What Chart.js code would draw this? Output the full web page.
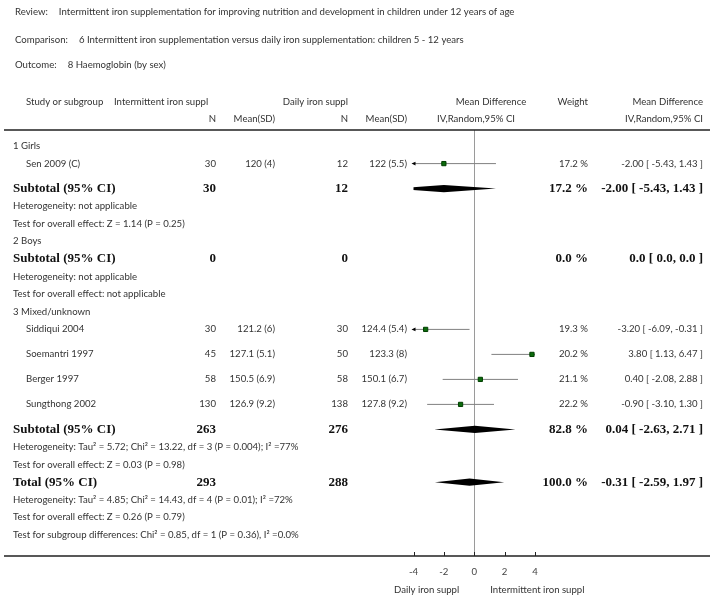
<!DOCTYPE html>
<html>
<head>
<meta charset="utf-8">
<script src="https://cdn.jsdelivr.net/npm/chart.js@4.4.1/dist/chart.umd.min.js"></script>
<style>
  html, body { margin: 0; padding: 0; background: #fff; }
  #wrap { width: 713px; height: 599px; }
</style>
</head>
<body>
<div id="wrap"><canvas id="forest" width="713" height="599"></canvas></div>
<script>
// study level data
const groupNames = ["1 Girls", "2 Boys", "3 Mixed/unknown"];
const studyNames = ["Sen 2009 (C)", "Siddiqui 2004", "Soemantri 1997", "Berger 1997", "Sungthong 2002"];
const studyGroup = [0, 2, 2, 2, 2];
const intN = [30, 30, 45, 58, 130];
const intMeanSD = ["120 (4)", "121.2 (6)", "127.1 (5.1)", "150.5 (6.9)", "126.9 (9.2)"];
const dailyN = [12, 30, 50, 58, 138];
const dailyMeanSD = ["122 (5.5)", "124.4 (5.4)", "123.3 (8)", "150.1 (6.7)", "127.8 (9.2)"];
const meanDiff = [-2.00, -3.20, 3.80, 0.40, -0.90];
const ciLow = [-5.43, -6.09, 1.13, -2.08, -3.10];
const ciHigh = [1.43, -0.31, 6.47, 2.88, 1.30];
const weight = [17.2, 19.3, 20.2, 21.1, 22.2];

// subtotals (girls, boys, mixed) and total
const totalNames = ["Subtotal (95% CI)", "Subtotal (95% CI)", "Subtotal (95% CI)", "Total (95% CI)"];
const totalIntN = [30, 0, 263, 293];
const totalDailyN = [12, 0, 276, 288];
const totalWeight = ["17.2 %", "0.0 %", "82.8 %", "100.0 %"];
const totalCI = ["-2.00 [ -5.43, 1.43 ]", "0.0 [ 0.0, 0.0 ]", "0.04 [ -2.63, 2.71 ]", "-0.31 [ -2.59, 1.97 ]"];
const totalMD = [-2.00, null, 0.04, -0.31];
const totalLow = [-5.43, null, -2.63, -2.59];
const totalHigh = [1.43, null, 2.71, 1.97];

const hetText = [
  "Heterogeneity: not applicable",
  "Heterogeneity: not applicable",
  "Heterogeneity: Tau² = 5.72; Chi² = 13.22, df = 3 (P = 0.004); I² =77%",
  "Heterogeneity: Tau² = 4.85; Chi² = 14.43, df = 4 (P = 0.01); I² =72%"
];
const effectText = [
  "Test for overall effect: Z = 1.14 (P = 0.25)",
  "Test for overall effect: not applicable",
  "Test for overall effect: Z = 0.03 (P = 0.98)",
  "Test for overall effect: Z = 0.26 (P = 0.79)"
];
const subgroupText = "Test for subgroup differences: Chi² = 0.85, df = 1 (P = 0.36), I² =0.0%";

const titleKeys = ["Review:", "Comparison:", "Outcome:"];
const titleValues = [
  "Intermittent iron supplementation for improving nutrition and development in children under 12 years of age",
  "6 Intermittent iron supplementation versus daily iron supplementation: children 5 - 12 years",
  "8 Haemoglobin (by sex)"
];

const xTicks = [-4, -2, 0, 2, 4];
const leftLabel = "Daily iron suppl";
const rightLabel = "Intermittent iron suppl";

// build the row list of the table
const rows = [];
groupNames.forEach((g, gi) => {
  rows.push({ kind: "label", text: g });
  studyGroup.forEach((sg, i) => { if (sg === gi) rows.push({ kind: "study", i: i }); });
  rows.push({ kind: "total", i: gi });
  rows.push({ kind: "label", text: hetText[gi] });
  rows.push({ kind: "label", text: effectText[gi] });
});
rows.push({ kind: "total", i: 3 });
rows.push({ kind: "label", text: hetText[3] });
rows.push({ kind: "label", text: effectText[3] });
rows.push({ kind: "label", text: subgroupText });

// vertical layout: y axis is in pixel units, study rows get more room
let yPos = 146;
rows.forEach((r, k) => {
  if (k > 0) yPos += rows[k - 1].kind === "study" ? 25 : 17.6;
  r.y = yPos;
});

const TOP = 130, BOTTOM = 556;
const FONT = "Lato, 'DejaVu Sans', sans-serif";
const SMALL = "9.6px " + FONT;
const BOLD = "bold 13px 'Liberation Serif', serif";

const datasets = [];
const squares = [];
rows.forEach(r => {
  if (r.kind === "study") {
    squares.push({ x: meanDiff[r.i], y: r.y });
    datasets.push({
      data: [{ x: ciLow[r.i], y: r.y }, { x: ciHigh[r.i], y: r.y }],
      borderColor: "#808080", borderWidth: 1, pointRadius: 0, order: 2
    });
  }
  if (r.kind === "total" && totalMD[r.i] !== null) {
    const h = 3.6;
    datasets.push({
      data: [
        { x: totalLow[r.i], y: r.y }, { x: totalMD[r.i], y: r.y - h },
        { x: totalHigh[r.i], y: r.y }, { x: totalMD[r.i], y: r.y + h },
        { x: totalLow[r.i], y: r.y }
      ],
      borderWidth: 0, pointRadius: 0, fill: "shape",
      backgroundColor: "#000", borderColor: "#000", order: 1
    });
  }
});
datasets.push({
  data: squares, showLine: false, pointStyle: "rect", pointRadius: 3,
  backgroundColor: "#0b6b0b", borderColor: "#003f00", borderWidth: 1, order: 0
});

function text(ctx, s, x, y, align, font, color) {
  ctx.font = font || SMALL;
  ctx.fillStyle = color || "#333";
  ctx.textAlign = align || "left";
  ctx.textBaseline = "middle";
  ctx.fillText(s, x, y);
}

const tablePlugin = {
  id: "forestTable",
  afterDraw(chart) {
    const ctx = chart.ctx;
    const xs = chart.scales.x;
    const area = chart.chartArea;
    ctx.save();

    // title block
    [12, 40, 65].forEach((ty, k) => {
      text(ctx, titleKeys[k], 15, ty);
      const w = ctx.measureText(titleKeys[k]).width;
      text(ctx, titleValues[k], 15 + w + 11, ty);
    });

    // column headers
    text(ctx, "Study or subgroup", 26, 102);
    text(ctx, "Intermittent iron suppl", 114, 102);
    text(ctx, "Daily iron suppl", 348, 102, "right");
    text(ctx, "Mean Difference", 491, 102, "center");
    text(ctx, "Weight", 588, 102, "right");
    text(ctx, "Mean Difference", 703, 102, "right");
    text(ctx, "N", 216, 119, "right");
    text(ctx, "Mean(SD)", 275, 119, "right");
    text(ctx, "N", 348, 119, "right");
    text(ctx, "Mean(SD)", 407, 119, "right");
    text(ctx, "IV,Random,95% CI", 476, 119, "center");
    text(ctx, "IV,Random,95% CI", 703, 119, "right");

    // rules
    ctx.strokeStyle = "#222";
    ctx.lineWidth = 1.5;
    ctx.beginPath();
    ctx.moveTo(4, TOP); ctx.lineTo(710, TOP);
    ctx.moveTo(4, BOTTOM); ctx.lineTo(710, BOTTOM);
    ctx.stroke();

    // tick marks pointing up
    ctx.lineWidth = 1;
    ctx.beginPath();
    xs.ticks.forEach(t => {
      const px = Math.round(xs.getPixelForValue(t.value)) + 0.5;
      ctx.moveTo(px, BOTTOM); ctx.lineTo(px, BOTTOM - 4);
    });
    ctx.stroke();

    // table rows
    rows.forEach(r => {
      if (r.kind === "label") {
        text(ctx, r.text, 13, r.y);
      } else if (r.kind === "study") {
        const i = r.i;
        text(ctx, studyNames[i], 26, r.y);
        text(ctx, String(intN[i]), 216, r.y, "right");
        text(ctx, intMeanSD[i], 275, r.y, "right");
        text(ctx, String(dailyN[i]), 348, r.y, "right");
        text(ctx, dailyMeanSD[i], 407, r.y, "right");
        text(ctx, weight[i].toFixed(1) + " %", 588, r.y, "right");
        text(ctx, meanDiff[i].toFixed(2) + " [ " + ciLow[i].toFixed(2) + ", " + ciHigh[i].toFixed(2) + " ]", 703, r.y, "right");
        // arrow where the interval runs off the axis
        if (ciLow[i] < xs.min) {
          ctx.fillStyle = "#000";
          ctx.beginPath();
          ctx.moveTo(area.left - 2, r.y);
          ctx.lineTo(area.left + 2, r.y - 1.8);
          ctx.lineTo(area.left + 2, r.y + 1.8);
          ctx.closePath();
          ctx.fill();
        }
      } else {
        const i = r.i;
        text(ctx, totalNames[i], 13, r.y, "left", BOLD, "#111");
        text(ctx, String(totalIntN[i]), 216, r.y, "right", BOLD, "#111");
        text(ctx, String(totalDailyN[i]), 348, r.y, "right", BOLD, "#111");
        text(ctx, totalWeight[i], 588, r.y, "right", BOLD, "#111");
        text(ctx, totalCI[i], 703, r.y, "right", BOLD, "#111");
      }
    });

    // axis captions
    const zero = xs.getPixelForValue(0);
    text(ctx, leftLabel, zero - 15, 590, "right");
    text(ctx, rightLabel, zero + 16, 590, "left");
    ctx.restore();
  }
};

new Chart(document.getElementById("forest"), {
  type: "line",
  data: { datasets: datasets },
  options: {
    responsive: false,
    animation: false,
    events: [],
    layout: { padding: { left: 413.5, right: 178, top: TOP, bottom: 599 - BOTTOM - 36 } },
    plugins: { legend: { display: false }, tooltip: { enabled: false } },
    elements: { line: { tension: 0 } },
    scales: {
      x: {
        type: "linear",
        min: -4,
        max: 4,
        afterBuildTicks(scale) { scale.ticks = xTicks.map(v => ({ value: v })); },
        afterFit(scale) { scale.height = 36; },
        border: { display: false },
        grid: {
          drawTicks: false,
          color: c => (c.tick && c.tick.value === 0 ? "#9a9a9a" : "rgba(0,0,0,0)"),
          lineWidth: 1
        },
        ticks: { padding: 10, color: "#444", font: { family: "Lato", size: 9.6 }, maxRotation: 0 }
      },
      y: {
        type: "linear",
        display: false,
        reverse: true,
        min: TOP,
        max: BOTTOM
      }
    }
  },
  plugins: [tablePlugin]
});
</script>
</body>
</html>
